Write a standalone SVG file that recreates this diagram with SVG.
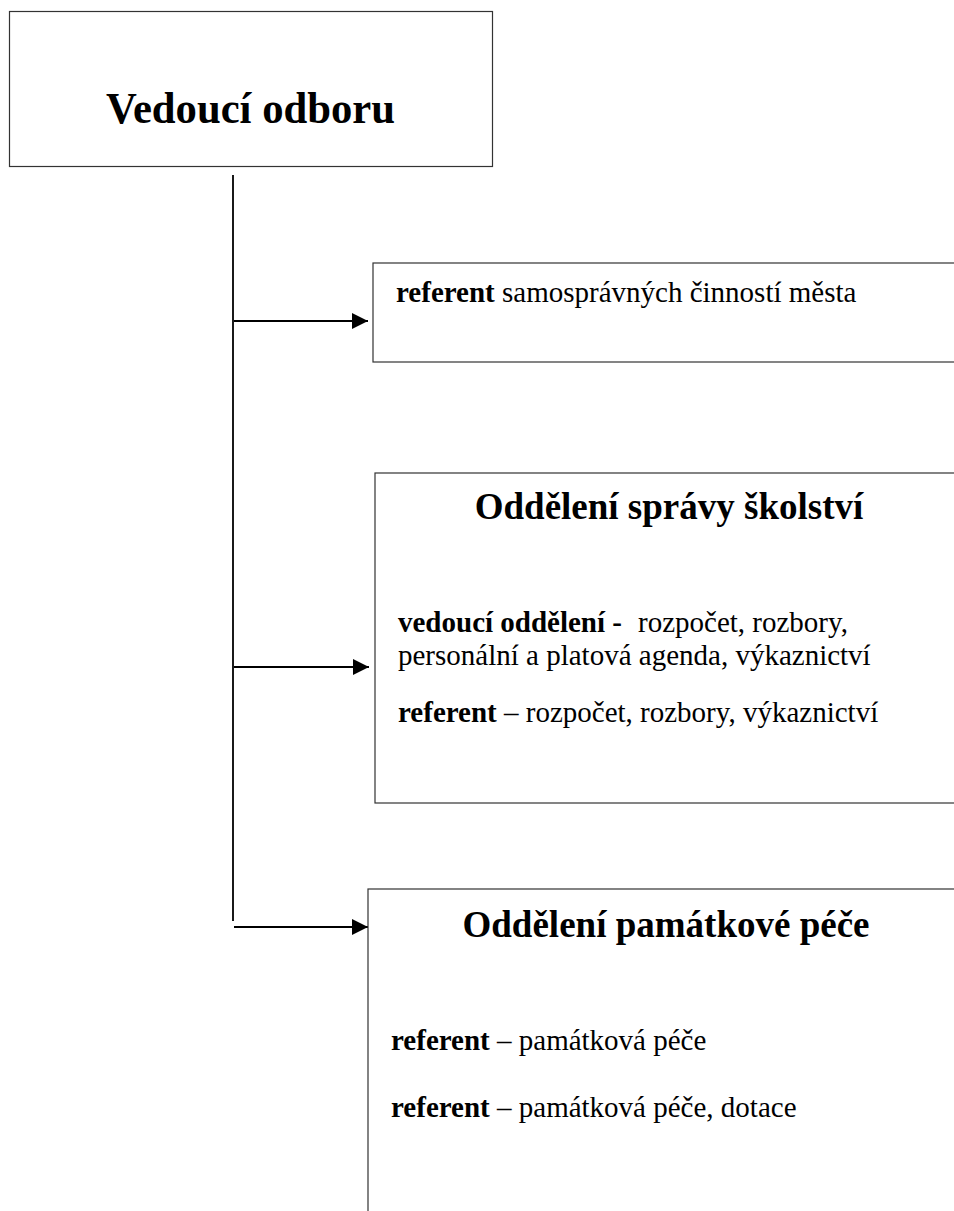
<svg xmlns="http://www.w3.org/2000/svg" width="954" height="1211" viewBox="0 0 954 1211">
<style>
.box{fill:#fff;stroke:#333;stroke-width:1.2}
.t{font-family:"Liberation Serif","Times New Roman",serif;fill:#000}
.top{font-size:45px;font-weight:bold}
.h{font-size:37px;font-weight:bold}
.b{font-size:29px}
.bold{font-weight:bold}
.conn{stroke:#000;stroke-width:1.8;fill:none}
</style>
<defs>
<marker id="arr" markerWidth="16" markerHeight="16" refX="16" refY="8" orient="auto" markerUnits="userSpaceOnUse">
<path d="M0,0 L16,8 L0,16 Z" fill="#000"/>
</marker>
</defs>
<rect width="954" height="1211" fill="#fff"/>
<g id="connectors">
<line class="conn" x1="233" y1="175" x2="233" y2="921"/>
<line class="conn" x1="234" y1="321" x2="368" y2="321" marker-end="url(#arr)"/>
<line class="conn" x1="234" y1="667" x2="369" y2="667" marker-end="url(#arr)"/>
<line class="conn" x1="234" y1="927" x2="368" y2="927" marker-end="url(#arr)"/>
</g>
<g id="vedouci">
<rect class="box" x="9.5" y="11.5" width="483" height="155"/>
<text class="t top" x="106" y="123" textLength="289" lengthAdjust="spacingAndGlyphs">Vedoucí odboru</text>
</g>
<g id="referent-samosprava">
<rect class="box" x="373" y="263" width="640" height="99"/>
<text class="t b" x="396" y="302"><tspan class="bold">referent</tspan> samosprávných činností města</text>
</g>
<g id="oddeleni-skolstvi">
<rect class="box" x="375" y="473" width="640" height="330"/>
<text class="t h" x="669" y="519" text-anchor="middle">Oddělení správy školství</text>
<text class="t b" x="398" y="632"><tspan class="bold">vedoucí oddělení -</tspan><tspan x="638">rozpočet, rozbory,</tspan></text>
<text class="t b" x="398" y="665">personální a platová agenda, výkaznictví</text>
<text class="t b" x="398" y="722"><tspan class="bold">referent</tspan> – rozpočet, rozbory, výkaznictví</text>
</g>
<g id="oddeleni-pamatkove-pece">
<rect class="box" x="368" y="889" width="640" height="400"/>
<text class="t h" x="666" y="937" text-anchor="middle">Oddělení památkové péče</text>
<text class="t b" x="391" y="1050"><tspan class="bold">referent</tspan> – památková péče</text>
<text class="t b" x="391" y="1117"><tspan class="bold">referent</tspan> – památková péče, dotace</text>
</g>
</svg>
